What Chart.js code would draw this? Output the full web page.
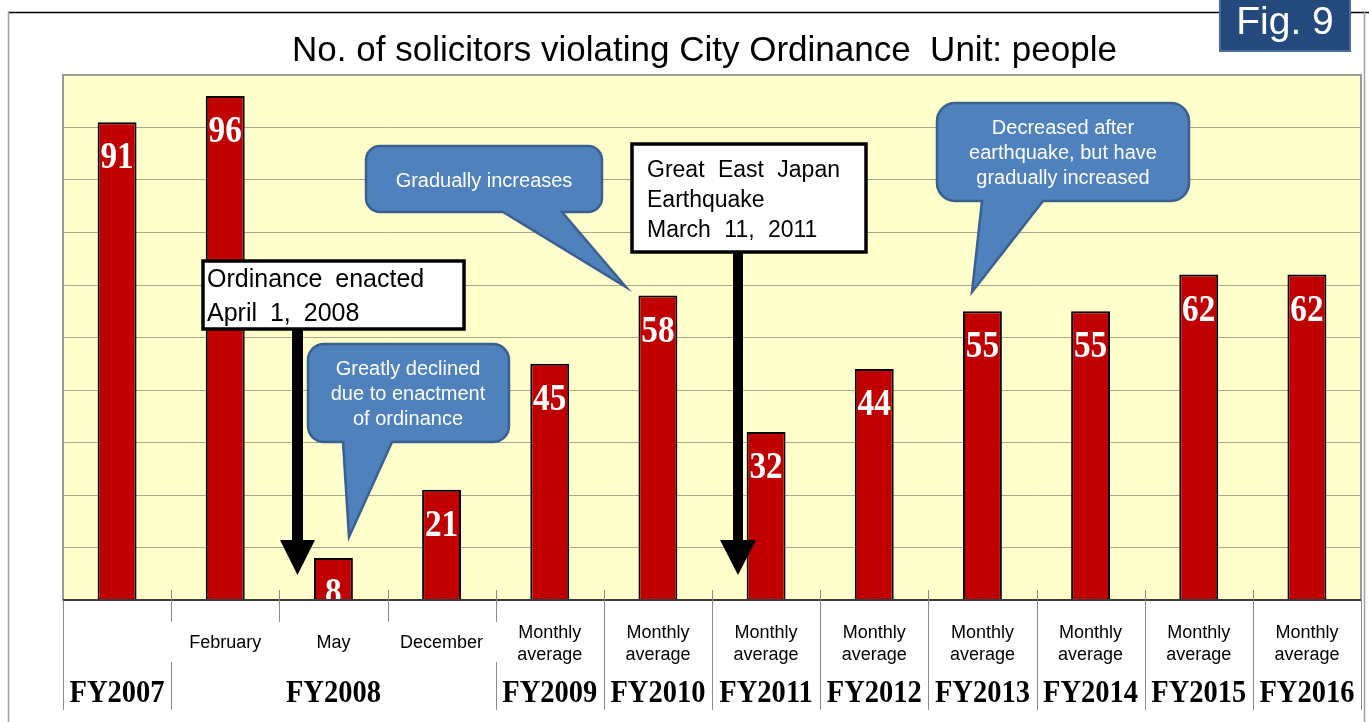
<!DOCTYPE html>
<html><head><meta charset="utf-8">
<script src="https://cdn.jsdelivr.net/npm/chart.js@4"></script>
<style>html,body{margin:0;padding:0;background:#fff;overflow:hidden}canvas{display:block}</style>
</head><body>
<canvas id="c" width="1369" height="722"></canvas>
<script>
// ---- data ----
const groupLabels = ['FY2007','FY2008','FY2009','FY2010','FY2011','FY2012','FY2013','FY2014','FY2015','FY2016'];
const groupSizes  = [1,3,1,1,1,1,1,1,1,1];
const subLabels   = ['', 'February', 'May', 'December',
  'Monthly average','Monthly average','Monthly average','Monthly average',
  'Monthly average','Monthly average','Monthly average','Monthly average'];
const values      = [91, 96, 8, 21, 45, 58, 32, 44, 55, 55, 62, 62];
const titleText   = 'No. of solicitors violating City Ordinance  Unit: people';
const figText     = 'Fig. 9';
const yTicks      = [0,10,20,30,40,50,60,70,80,90,100];

// category labels built from the arrays
const categories = [];
(function(){ let k=0; groupLabels.forEach((g,gi)=>{ for(let j=0;j<groupSizes[gi];j++){ categories.push((g+' '+subLabels[k]).trim()); k++; } }); })();

const SANS = '"Liberation Sans", Arial, sans-serif';
const SERIF = '"Liberation Serif", "Times New Roman", serif';

function callout(ctx, x0,y0,x1,y1,r, tb0,tb1, tx,ty, lines, cx, cy0, lh){
  ctx.save();
  ctx.beginPath();
  ctx.moveTo(x0+r,y0);
  ctx.lineTo(x1-r,y0); ctx.arcTo(x1,y0,x1,y0+r,r);
  ctx.lineTo(x1,y1-r); ctx.arcTo(x1,y1,x1-r,y1,r);
  ctx.lineTo(tb1,y1); ctx.lineTo(tx,ty); ctx.lineTo(tb0,y1);
  ctx.lineTo(x0+r,y1); ctx.arcTo(x0,y1,x0,y1-r,r);
  ctx.lineTo(x0,y0+r); ctx.arcTo(x0,y0,x0+r,y0,r);
  ctx.closePath();
  ctx.fillStyle='#4f81bd'; ctx.fill();
  ctx.lineWidth=2.5; ctx.strokeStyle='#3a6090'; ctx.stroke();
  ctx.fillStyle='#ffffff'; ctx.font='20px '+SANS; ctx.textAlign='center'; ctx.textBaseline='middle';
  lines.forEach((l,i)=>ctx.fillText(l,cx,cy0+i*lh));
  ctx.restore();
}
function box(ctx,x0,y0,x1,y1,lines,tx,by0,lh,font,ws){
  ctx.save();
  ctx.fillStyle='#fff'; ctx.fillRect(x0,y0,x1-x0,y1-y0);
  ctx.lineWidth=3.5; ctx.strokeStyle='#000'; ctx.strokeRect(x0,y0,x1-x0,y1-y0);
  ctx.fillStyle='#000'; ctx.font=font; ctx.textAlign='left'; ctx.textBaseline='alphabetic';
  try{ ctx.wordSpacing=ws; }catch(e){}
  lines.forEach((l,i)=>ctx.fillText(l,tx,by0+i*lh));
  ctx.restore();
}
function arrow(ctx,x,y0,y1,shaftW,headW,headH){
  ctx.save(); ctx.fillStyle='#000';
  ctx.fillRect(x-shaftW/2,y0,shaftW,y1-headH-y0+1);
  ctx.beginPath(); ctx.moveTo(x-headW/2,y1-headH); ctx.lineTo(x+headW/2,y1-headH); ctx.lineTo(x,y1); ctx.closePath(); ctx.fill();
  ctx.restore();
}

const decor = {
  id:'decor',
  beforeDraw(chart){
    const ctx=chart.ctx, a=chart.chartArea;
    ctx.save();
    ctx.fillStyle='#fff'; ctx.fillRect(0,0,chart.width,chart.height);
    ctx.fillStyle='#ffffcc'; ctx.fillRect(a.left,a.top,a.right-a.left,a.bottom-a.top);
    ctx.restore();
  },
  afterDatasetsDraw(chart){
    const ctx=chart.ctx, a=chart.chartArea, xs=chart.scales.x;
    const meta=chart.getDatasetMeta(0);
    // value labels inside bars (clipped to plot)
    ctx.save();
    ctx.beginPath(); ctx.rect(a.left,a.top,a.right-a.left,a.bottom-a.top); ctx.clip();
    ctx.fillStyle='#fff'; ctx.font='bold 37px '+SERIF; ctx.textAlign='center'; ctx.textBaseline='alphabetic';
    meta.data.forEach((el,i)=>{
      ctx.save(); ctx.translate(el.x, el.y+46); ctx.scale(0.9,1);
      ctx.fillText(String(values[i]),0,0); ctx.restore();
    });
    ctx.restore();
    // plot border and baseline
    ctx.save();
    ctx.strokeStyle='#9a9a9a'; ctx.lineWidth=2;
    ctx.strokeRect(a.left,a.top,a.right-a.left,a.bottom-a.top);
    ctx.strokeStyle='#3a3a3a'; ctx.lineWidth=2;
    ctx.beginPath(); ctx.moveTo(a.left,a.bottom); ctx.lineTo(a.right,a.bottom); ctx.stroke();
    ctx.restore();

    // category axis (two levels)
    const n=values.length;
    const step = (xs.getPixelForValue(1)-xs.getPixelForValue(0));
    const bnd = i => xs.getPixelForValue(i) - step/2;
    ctx.save();
    ctx.strokeStyle='#8a8a8a'; ctx.lineWidth=1;
    const groupStart=[]; let k=0; groupSizes.forEach(s=>{groupStart.push(k); k+=s;});
    for(let i=0;i<=n;i++){
      const x=Math.round(bnd(i))+0.5;
      const isGroup = groupStart.includes(i) || i===n;
      ctx.beginPath();
      if(i===0 || i===n){ ctx.moveTo(x,a.bottom); ctx.lineTo(x,710); }
      else if(isGroup && i>=5){ ctx.moveTo(x,590); ctx.lineTo(x,710); }
      else if(isGroup){ ctx.moveTo(x,590); ctx.lineTo(x,622); ctx.moveTo(x,662); ctx.lineTo(x,710); }
      else { ctx.moveTo(x,590); ctx.lineTo(x,622); }
      ctx.stroke();
    }
    // sub labels
    ctx.fillStyle='#000'; ctx.font='18px '+SANS; ctx.textAlign='center'; ctx.textBaseline='middle';
    subLabels.forEach((s,i)=>{
      if(!s) return;
      const x=xs.getPixelForValue(i);
      const parts = s==='Monthly average' ? ['Monthly','average'] : [s];
      if(parts.length===1) ctx.fillText(parts[0],x,643);
      else { ctx.fillText(parts[0],x,633); ctx.fillText(parts[1],x,655); }
    });
    // group labels
    ctx.font='bold 31px '+SERIF;
    groupLabels.forEach((g,gi)=>{
      const s=groupStart[gi], e=s+groupSizes[gi]-1;
      const x=(xs.getPixelForValue(s)+xs.getPixelForValue(e))/2;
      ctx.save(); ctx.translate(x,694); ctx.scale(0.92,1); ctx.fillText(g,0,0); ctx.restore();
    });
    ctx.restore();

    // frame
    ctx.save();
    ctx.strokeStyle='#000'; ctx.lineWidth=1.5;
    ctx.beginPath(); ctx.moveTo(8,12.5); ctx.lineTo(1369,12.5); ctx.stroke();
    ctx.strokeStyle='#a0a0a0'; ctx.lineWidth=1.5;
    ctx.beginPath(); ctx.moveTo(8.5,12); ctx.lineTo(8.5,722); ctx.stroke();
    ctx.beginPath(); ctx.moveTo(1364.5,12); ctx.lineTo(1364.5,722); ctx.stroke();
    ctx.restore();

    // title
    ctx.save();
    ctx.fillStyle='#000'; ctx.font='35px '+SANS; ctx.textAlign='center'; ctx.textBaseline='alphabetic';
    ctx.fillText(titleText,704.5,61);
    ctx.restore();

    // Fig box
    ctx.save();
    ctx.fillStyle='#244a7d'; ctx.fillRect(1219,0,132,52);
    ctx.strokeStyle='#4a6c9c'; ctx.lineWidth=2; ctx.strokeRect(1220,-2,130,53);
    ctx.fillStyle='#fff'; ctx.font='39px '+SANS; ctx.textAlign='center'; ctx.textBaseline='alphabetic';
    ctx.fillText(figText,1285,34);
    ctx.restore();

    // annotations
    box(ctx,203,261,464,329,['Ordinance enacted','April 1, 2008'],207,287,34,'25px '+SANS,'6px');
    arrow(ctx,297.5,329,575,11,35,35);
    box(ctx,632,144,866,252,['Great East Japan','Earthquake','March 11, 2011'],647,177,30,'23px '+SANS,'7px');
    arrow(ctx,738,252,575,10,36,35);
    callout(ctx,308,344,509,442,16,343,392,349,537,['Greatly declined','due to enactment','of ordinance'],408,369,25);
    callout(ctx,366,146,602,212,14,503,562,626,287,['Gradually increases'],484,181,25);
    callout(ctx,937,103,1189,201,18,982,1043,972,292,['Decreased after','earthquake, but have','gradually increased'],1063,128,25);
  }
};

new Chart(document.getElementById('c'),{
  type:'bar',
  data:{ labels:categories, datasets:[{ data:values, backgroundColor:'#c00000', borderColor:'#000', borderWidth:2, borderSkipped:'bottom', categoryPercentage:1, barPercentage:0.36 }] },
  options:{
    responsive:false, animation:false, devicePixelRatio:1,
    layout:{ padding:{ left:63, top:75, right:8, bottom:122 } },
    plugins:{ legend:{display:false}, tooltip:{enabled:false}, title:{display:false} },
    scales:{
      x:{ display:false },
      y:{ min:0, max:100, afterBuildTicks(s){ s.ticks = yTicks.map(v=>({value:v})); },
          ticks:{ display:false }, border:{ display:false },
          grid:{ color:'#a8a890', lineWidth:1, drawTicks:false } }
    }
  },
  plugins:[decor]
});
</script>
</body></html>
